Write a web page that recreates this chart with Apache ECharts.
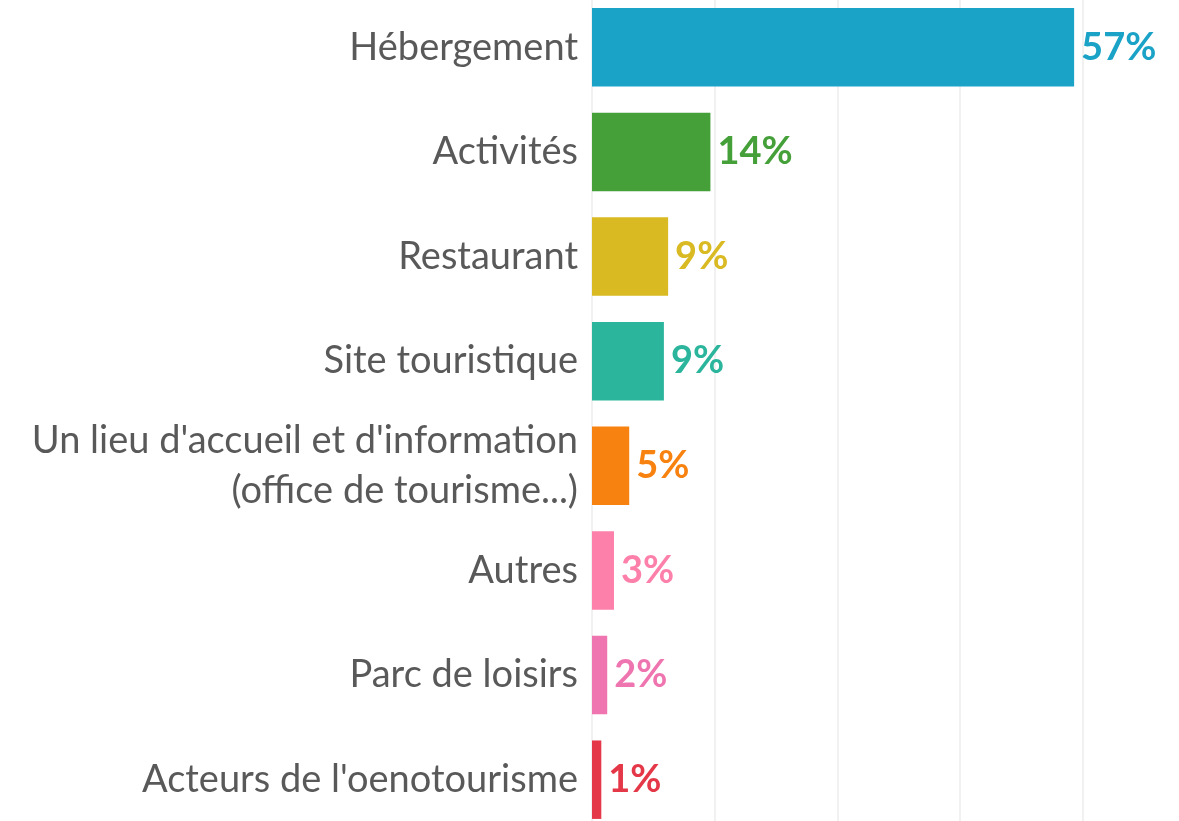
<!DOCTYPE html>
<html>
<head>
<meta charset="utf-8">
<title>Chart</title>
<script src="https://cdn.jsdelivr.net/npm/echarts@6/dist/echarts.min.js"></script>
<style>
  html, body { margin: 0; padding: 0; background: #fff; overflow: hidden; }
  /* the plot runs slightly past the top and bottom edges in the original */
  #main { position: relative; top: -5px; width: 1179px; height: 837px; }
</style>
</head>
<body>
<div id="main"></div>
<script>
var categories = ["Hébergement", "Activités", "Restaurant", "Site touristique",
    "Un lieu d'accueil et d'information\n(office de tourisme...)",
    "Autres", "Parc de loisirs", "Acteurs de l'oenotourisme"];
// bar lengths (percent)
var values = [57, 14, 9, 8.5, 4.4, 2.6, 1.8, 1.1];
// labels as printed next to the bars
var valueLabels = ["57%", "14%", "9%", "9%", "5%", "3%", "2%", "1%"];
var colors = ["#1aa2c7", "#45a03a", "#d9ba22", "#2bb59c", "#f8820f", "#fd80ab", "#ef75b0", "#e43848"];

var myChart = echarts.init(document.getElementById('main'));

var option = {
    animation: false,
    grid: { left: 592, right: 0, top: 0, bottom: 0 },
    xAxis: {
        type: 'value',
        min: 0,
        max: 69.4,
        interval: 14.5,
        axisLabel: { show: false },
        axisLine: { show: false },
        axisTick: { show: false },
        splitLine: { showMaxLine: false, lineStyle: { color: '#ececec', width: 1.5 } }
    },
    yAxis: {
        type: 'category',
        inverse: true,
        data: categories,
        axisLine: { show: false },
        axisTick: { show: false },
        axisLabel: {
            margin: 14,
            color: '#595959',
            fontFamily: 'Lato',
            fontSize: 38,
            lineHeight: 50,
            align: 'right'
        }
    },
    series: [{
        type: 'bar',
        barWidth: '75%',
        data: values.map(function (v, i) {
            return { value: v, itemStyle: { color: colors[i] } };
        }),
        label: {
            show: true,
            position: 'right',
            distance: 7,
            fontFamily: 'Lato',
            fontWeight: 'bold',
            fontSize: 38,
            formatter: function (p) { return valueLabels[p.dataIndex]; },
            color: 'inherit'
        }
    }]
};

myChart.setOption(option);
</script>
</body>
</html>
